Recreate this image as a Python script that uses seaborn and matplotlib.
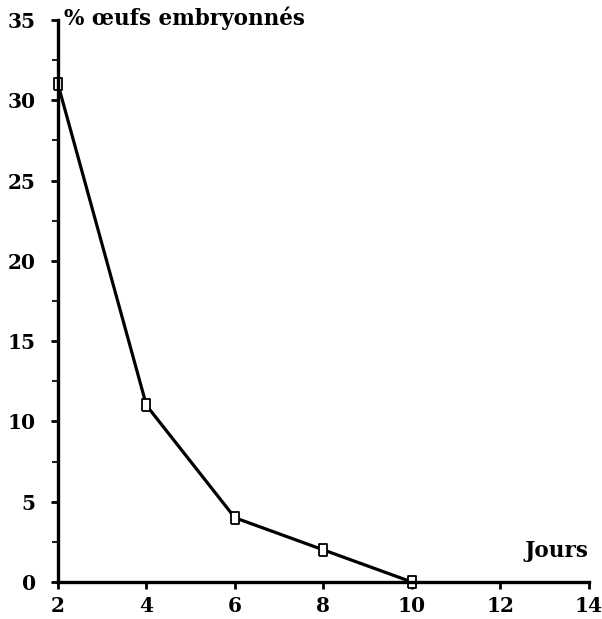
import pandas as pd
import matplotlib.pyplot as plt
import matplotlib.ticker as mticker
import seaborn as sns

jours = [2, 4, 6, 8, 10]
pct_embryonnes = [31, 11, 4, 2, 0]

x_ticks = [2, 4, 6, 8, 10, 12, 14]
y_ticks = [0, 5, 10, 15, 20, 25, 30, 35]

sns.set_style("ticks")
plt.rcParams['font.family'] = ['DejaVu Serif']
plt.rcParams['font.weight'] = 'bold'
plt.rcParams['text.color'] = 'black'

df = pd.DataFrame({'Jours': jours, 'pct': pct_embryonnes})

fig = plt.figure(figsize=(6.02, 6.19), dpi=100)
ax = fig.add_axes([0.0963, 0.0598, 0.8817, 0.9079])

# tall open rectangle marker, like the original
rect = [(-0.33, -0.5), (0.33, -0.5), (0.33, 0.5), (-0.33, 0.5), (-0.33, -0.5)]
sns.lineplot(data=df, x='Jours', y='pct', ax=ax, color='black', linewidth=2.3,
             marker=rect, markersize=8.5, markerfacecolor='white',
             markeredgecolor='black', markeredgewidth=1.3, clip_on=False)

ax.set_xlim(2, 14)
ax.set_ylim(0, 35)
ax.set_xticks(x_ticks)
ax.set_yticks(y_ticks)
ax.yaxis.set_minor_locator(mticker.MultipleLocator(2.5))
ax.tick_params(axis='both', labelsize=14.5, width=2, length=5, colors='black')
ax.tick_params(axis='y', pad=11)
ax.tick_params(axis='x', pad=5)
ax.tick_params(axis='y', which='minor', width=1.5, length=4)
for lab in ax.get_xticklabels() + ax.get_yticklabels():
    lab.set_fontweight('bold')

for s in ['top', 'right']:
    ax.spines[s].set_visible(False)
for s in ['left', 'bottom']:
    ax.spines[s].set_linewidth(2.4)
    ax.spines[s].set_color('black')

ax.set_xlabel('')
ax.set_ylabel('')
ax.text(0.012, 1.003, '% œufs embryonnés', transform=ax.transAxes,
        fontsize=15.5, fontweight='bold', ha='left', va='center', color='black')
ax.text(1.0, 0.055, 'Jours', transform=ax.transAxes,
        fontsize=15.5, fontweight='bold', ha='right', va='center', color='black')

fig.savefig('out.png', dpi=100)
